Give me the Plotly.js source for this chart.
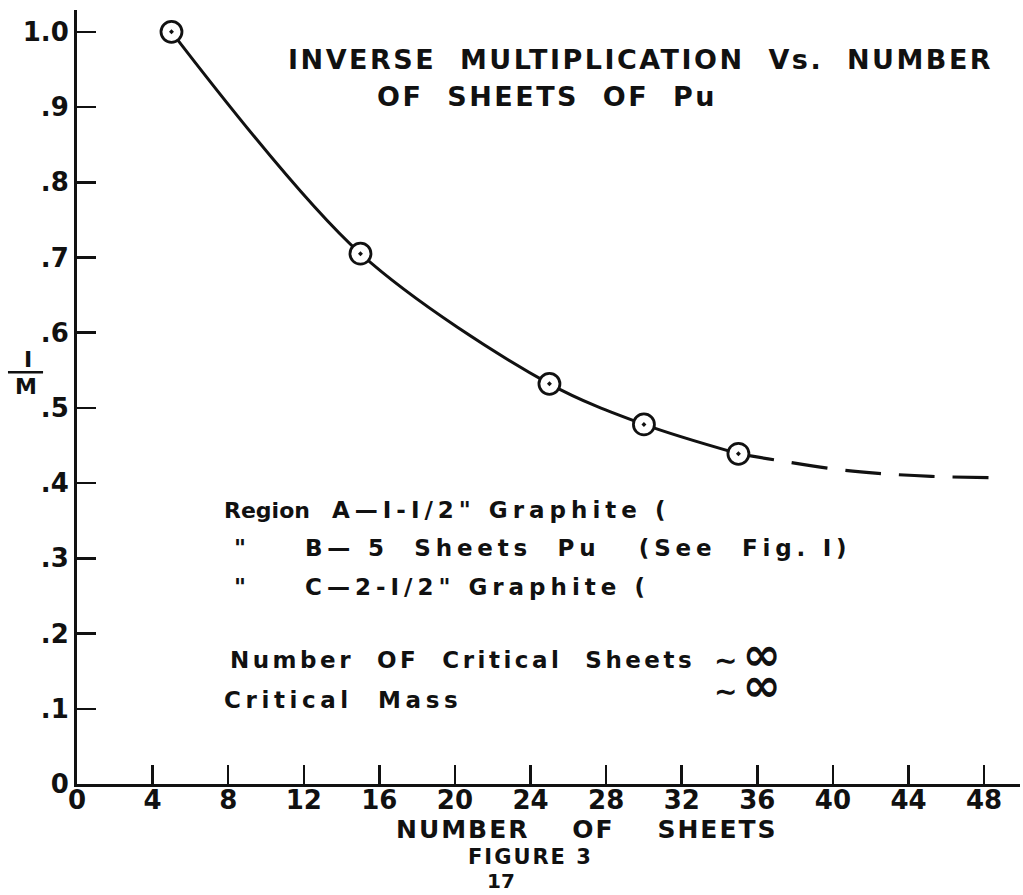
<!DOCTYPE html>
<html>
<head>
<meta charset="utf-8">
<script src="https://cdn.plot.ly/plotly-3.0.1.min.js"></script>
<style>
html,body{margin:0;padding:0;background:#fff;}
#chart{width:1023px;height:895px;}
</style>
</head>
<body>
<div id="chart"></div>
<script>
// Measured points (number of sheets vs 1/M)
const sheets = [5, 15, 25, 30, 35];
const inverseM = [1.0, 0.705, 0.532, 0.478, 0.439];
// Extrapolated (dashed) part of the curve
const extSheets = [35, 36.9, 40.0, 42.4, 45.2, 48.8];
const extInverseM = [0.439, 0.431, 0.419, 0.413, 0.409, 0.407];

const xTickVals = [0, 4, 8, 12, 16, 20, 24, 28, 32, 36, 40, 44, 48];
const xTickText = ["0", "4", "8", "12", "16", "20", "24", "28", "32", "36", "40", "44", "48"];
const yTickVals = [0, 0.1, 0.2, 0.3, 0.4, 0.5, 0.6, 0.7, 0.8, 0.9, 1.0];
const yTickText = ["0", ".1", ".2", ".3", ".4", ".5", ".6", ".7", ".8", ".9", "1.0"];

const FONT = "DejaVu Sans, sans-serif";
const INK = "#111";

const traces = [
  {
    x: extSheets, y: extInverseM, type: "scatter", mode: "lines",
    line: {color: INK, width: 3.2, dash: "36px,18px", shape: "spline"},
    hoverinfo: "skip", showlegend: false
  },
  {
    x: sheets, y: inverseM, type: "scatter", mode: "lines",
    line: {color: INK, width: 3, shape: "spline", smoothing: 0.9},
    showlegend: false
  },
  {
    x: sheets, y: inverseM, type: "scatter", mode: "markers",
    marker: {symbol: "circle-dot", size: 21, color: "#fff", line: {color: INK, width: 2.8}},
    showlegend: false
  }
];

const sp = (s, ls) => '<span style="letter-spacing:' + ls + 'px">' + s + '</span>';

const txt = (text, ls, x, y, size, xanchor, extra) => Object.assign({
  text: sp(text, ls), x: x, y: y, xref: "x", yref: "y", showarrow: false,
  xanchor: xanchor || "left", yanchor: "middle",
  font: {family: FONT, size: size, color: INK, weight: "bold"}
}, extra || {});

const ptxt = (text, ls, x, y, size, yanchor) => ({
  text: sp(text, ls), x: x, y: y, xref: "paper", yref: "paper", showarrow: false,
  xanchor: "center", yanchor: yanchor || "middle",
  font: {family: FONT, size: size, color: INK, weight: "bold"}
});

const approxInf = '<span style="font-size:28px;letter-spacing:5px">∼</span><span style="font-size:46px">∞</span>';

const annotations = [
  txt("INVERSE  MULTIPLICATION  Vs.  NUMBER", 2.5, 29.8, 0.963, 27, "center"),
  txt("OF  SHEETS  OF  Pu", 2.5, 24.87, 0.914, 27, "center"),
  txt("Region", 0, 7.67, 0.364, 22),
  txt("A—I-I/2\" Graphite (", 5, 13.39, 0.364, 23),
  txt("\"", 0, 8.62, 0.314, 23, "center"),
  txt("B— 5  Sheets  Pu   (See  Fig. I)", 4.8, 11.96, 0.314, 23),
  txt("\"", 0, 8.62, 0.262, 23, "center"),
  txt("C—2-I/2\" Graphite (", 5, 11.96, 0.262, 23),
  txt("Number  OF  Critical  Sheets", 3.5, 7.99, 0.165, 23),
  txt("Critical  Mass", 4.6, 7.67, 0.112, 23),
  {text: approxInf + "<br>" + approxInf, x: 33.6, y: 0.152, xref: "x", yref: "y",
   showarrow: false, xanchor: "left", yanchor: "middle", align: "left",
   font: {family: FONT, size: 24, color: INK, weight: "bold"}},
  ptxt("NUMBER    OF    SHEETS", 2, 0.541, -0.0594, 25),
  ptxt("FIGURE 3", 2, 0.481, -0.0945, 21),
  ptxt("17", 0, 0.4496, -0.1434, 20, "bottom"),
  ptxt("I", 0, -0.052, 0.549, 22),
  ptxt("M", 0, -0.054, 0.514, 22)
];

const layout = {
  width: 1023, height: 895,
  margin: {l: 77, r: 3, t: 10, b: 111},
  paper_bgcolor: "#fff", plot_bgcolor: "#fff",
  showlegend: false,
  xaxis: {
    range: [0, 49.9], showgrid: false, zeroline: false,
    showline: true, linecolor: INK, linewidth: 3,
    ticks: "inside", ticklen: 19, tickwidth: 2.5, tickcolor: INK,
    tickmode: "array", tickvals: xTickVals, ticktext: xTickText,
    tickfont: {family: FONT, size: 26, color: INK, weight: "bold"}, ticklabelstandoff: -9
  },
  yaxis: {
    range: [0, 1.029], showgrid: false, zeroline: false,
    showline: true, linecolor: INK, linewidth: 3,
    ticks: "inside", ticklen: 19, tickwidth: 2.5, tickcolor: INK,
    tickmode: "array", tickvals: yTickVals, ticktext: yTickText,
    tickfont: {family: FONT, size: 26, color: INK, weight: "bold"}, ticklabelstandoff: 0
  },
  shapes: [
    {type: "line", xref: "paper", yref: "paper", x0: -0.0732, x1: -0.036, y0: 0.532, y1: 0.532,
     line: {color: INK, width: 2.5}}
  ],
  annotations: annotations
};

Plotly.newPlot("chart", traces, layout, {displayModeBar: false, staticPlot: true});
</script>
</body>
</html>
